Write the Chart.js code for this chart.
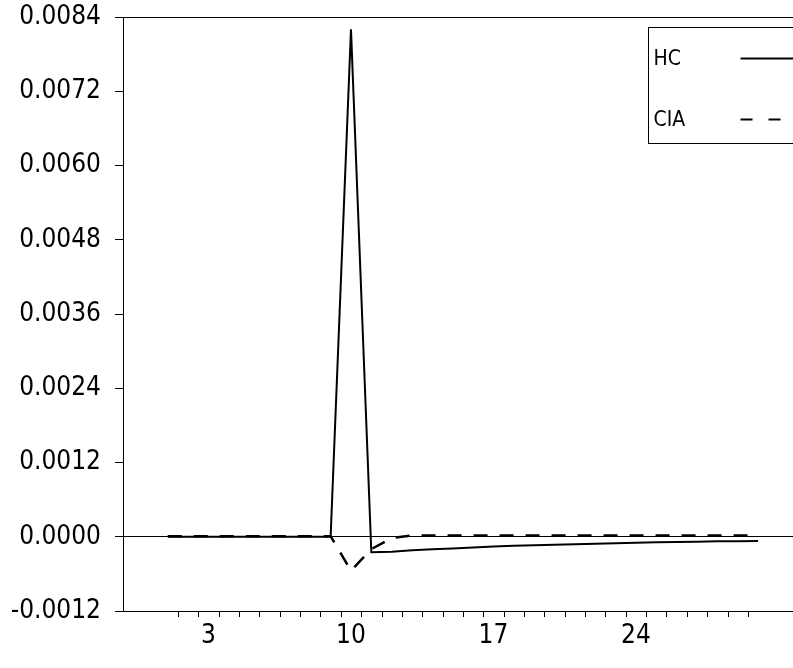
<!DOCTYPE html>
<html lang="en">
<head>
  <meta charset="UTF-8">
  <title>HC vs CIA</title>
  <script src="https://cdn.jsdelivr.net/npm/chart.js"></script>
  <style>
    html, body {
      margin: 0;
      padding: 0;
      background: #fff;
      overflow: hidden;
    }
    .chart-container {
      width: 812px;
      height: 668px;
    }
  </style>
</head>
<body>
  <div class="chart-container">
    <canvas id="myChart"></canvas>
  </div>

  <script>
    // observations 1..30
    const xValues = [1, 2, 3, 4, 5, 6, 7, 8, 9, 10, 11, 12, 13, 14, 15,
                     16, 17, 18, 19, 20, 21, 22, 23, 24, 25, 26, 27, 28, 29, 30];
    const hcValues = [0, 0, 0, 0, 0, 0, 0, 0, 0, 0.0082,
                      -0.00025, -0.000242, -0.000218, -0.000202, -0.00019,
                      -0.000175, -0.000158, -0.000145, -0.000137, -0.000129,
                      -0.000121, -0.000113, -0.000105, -0.000097, -0.000089,
                      -0.000084, -0.000079, -0.000074, -0.000071, -0.000068];
    const ciaValues = [0.00001, 0.00001, 0.00001, 0.00001, 0.00001, 0.00001, 0.00001, 0.00001, 0.00001,
                       -0.00055, -0.0002, -0.00002,
                       0.00002, 0.00002, 0.00002, 0.00002, 0.00002, 0.00002, 0.00002, 0.00002, 0.00002,
                       0.00002, 0.00002, 0.00002, 0.00002, 0.00002, 0.00002, 0.00002, 0.00002, 0.00002];
    const seriesNames = ['HC', 'CIA'];
    const xTickLabels = [3, 10, 17, 24];
    const yMin = -0.0012, yMax = 0.0084, yStep = 0.0012;

    const FONT = "'Liberation Sans Narrow', 'DejaVu Sans Condensed', sans-serif";
    const dash = [14, 12];

    // minor tick marks between observations + legend box
    const decorations = {
      id: 'decorations',
      afterDraw(chart) {
        const ctx = chart.ctx;
        const xs = chart.scales.x;
        const area = chart.chartArea;
        ctx.save();
        ctx.strokeStyle = '#000';
        ctx.lineWidth = 1;
        xValues.slice(0, -1).forEach(v => {
          const px = Math.round(xs.getPixelForValue(v + 0.5)) + 0.5;
          ctx.beginPath();
          ctx.moveTo(px, area.bottom);
          ctx.lineTo(px, area.bottom + 6);
          ctx.stroke();
        });

        // legend
        const lx = 648.5, ly = 27.5;
        ctx.strokeRect(lx, ly, 300, 116);
        ctx.fillStyle = '#000';
        ctx.font = '21px ' + FONT;
        ctx.textBaseline = 'middle';
        ctx.textAlign = 'left';
        ctx.fillText(seriesNames[0], lx + 5, ly + 32);
        ctx.fillText(seriesNames[1], lx + 5, ly + 93);
        ctx.lineWidth = 2;
        ctx.beginPath();
        ctx.moveTo(lx + 92, ly + 31);
        ctx.lineTo(lx + 160, ly + 31);
        ctx.stroke();
        ctx.setLineDash([12, 16]);
        ctx.beginPath();
        ctx.moveTo(lx + 92, ly + 92);
        ctx.lineTo(lx + 160, ly + 92);
        ctx.stroke();
        ctx.restore();
      }
    };

    const ctx = document.getElementById('myChart').getContext('2d');
    const myChart = new Chart(ctx, {
      type: 'line',
      data: {
        datasets: [{
          label: seriesNames[0],
          data: xValues.map((x, i) => ({ x: x, y: hcValues[i] })),
          borderColor: '#000',
          borderWidth: 2,
          pointRadius: 0,
          tension: 0
        }, {
          label: seriesNames[1],
          data: xValues.map((x, i) => ({ x: x, y: ciaValues[i] })),
          borderColor: '#000',
          borderWidth: 2.5,
          borderDash: dash,
          pointRadius: 0,
          tension: 0
        }]
      },
      options: {
        responsive: true,
        maintainAspectRatio: false,
        animation: false,
        layout: {
          padding: { top: 17, right: 2, bottom: 0, left: 0 }
        },
        scales: {
          x: {
            type: 'linear',
            min: -1.2,
            max: 32.55,
            afterBuildTicks: scale => {
              scale.ticks = xTickLabels.map(v => ({ value: v }));
            },
            afterFit: scale => {
              scale.height = 57;
              scale.paddingLeft = 0;
              scale.paddingRight = 0;
            },
            grid: { display: false, drawTicks: false },
            border: { display: true, color: '#000', width: 1 },
            ticks: {
              color: '#000',
              padding: 10,
              maxRotation: 0,
              font: { family: FONT, size: 26 },
              callback: v => String(v)
            }
          },
          y: {
            min: yMin,
            max: yMax,
            afterFit: scale => {
              scale.width = 123;
              scale.paddingTop = 0;
              scale.paddingBottom = 0;
            },
            grid: {
              drawTicks: true,
              tickLength: 8,
              tickColor: '#000',
              color: c => (Math.abs(c.tick.value) < 1e-9 || c.tick.value > yMax - 1e-6) ? '#000' : 'rgba(0,0,0,0)',
              lineWidth: 1
            },
            border: { display: true, color: '#000', width: 1 },
            ticks: {
              stepSize: yStep,
              color: '#000',
              padding: 14,
              font: { family: FONT, size: 26 },
              callback: v => v.toFixed(4)
            }
          }
        },
        plugins: {
          legend: { display: false },
          tooltip: { enabled: false }
        }
      },
      plugins: [decorations]
    });
  </script>
</body>
</html>
